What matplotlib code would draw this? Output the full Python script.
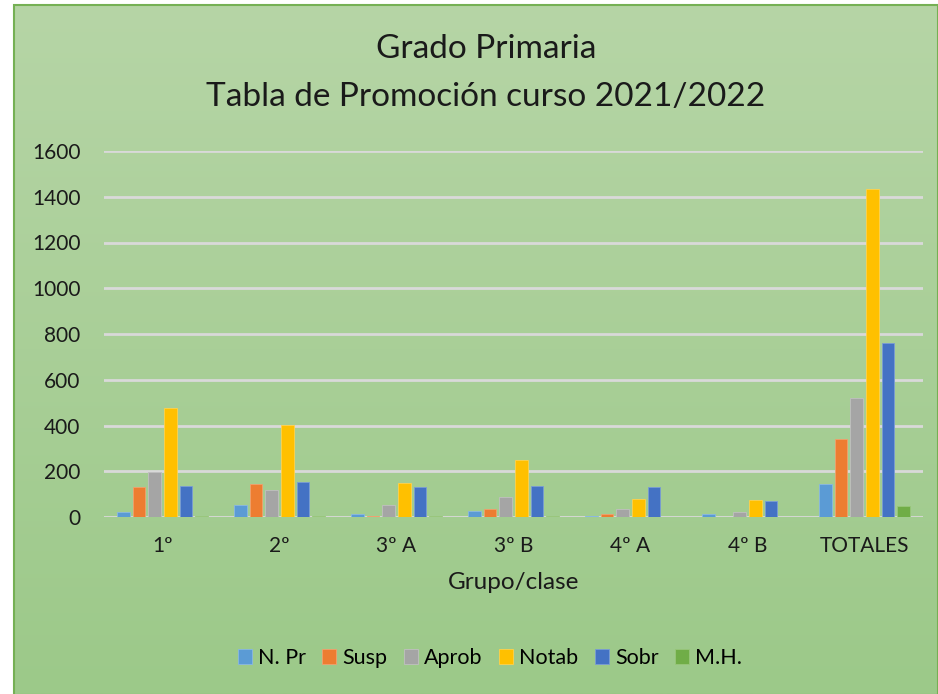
import numpy as np
import matplotlib.pyplot as plt
from matplotlib.patches import Rectangle

# data
groups = ['1º', '2º', '3º A', '3º B', '4º A', '4º B', 'TOTALES']
series_names = ['N. Pr', 'Susp', 'Aprob', 'Notab', 'Sobr', 'M.H.']
n_pr = [22, 54, 12, 25, 5, 13, 145]
susp = [129, 145, 6, 35, 12, 2, 339]
aprob = [197, 120, 51, 88, 35, 22, 521]
notab = [478, 402, 148, 247, 79, 76, 1436]
sobr = [134, 155, 129, 134, 129, 69, 759]
mh = [6, 6, 3, 6, 1, 0, 47]
colors = ['#5b9bd5', '#ed7d31', '#a5a5a5', '#ffc000', '#4472c4', '#70ad47']
edges = ['#8ab8e3', '#f2a06e', '#c0c0c0', '#ffd24d', '#7a9cd6', '#98c77a']

plt.rcParams['font.family'] = ['Lato', 'DejaVu Sans']

fig = plt.figure(figsize=(9.38, 6.94), dpi=100)

# green gradient background of the chart area
bg = fig.add_axes([0, 0, 1, 1])
bg.set_xlim(0, 938)
bg.set_ylim(694, 0)
bg.axis('off')
grad = np.linspace(0, 1, 256).reshape(-1, 1)
top = np.array([182, 213, 166]) / 255
bottom = np.array([156, 201, 137]) / 255
img = top + (bottom - top) * grad[:, :, None]
bg.imshow(img, extent=[13, 938, 694, 4], aspect='auto', zorder=0)
bg.add_patch(Rectangle((13.5, 4.5), 924, 690, fill=False,
                       edgecolor='#75b054', linewidth=1.5, zorder=1))

# title
fig.text(486 / 938, 1 - 49 / 694, 'Grado Primaria', ha='center', va='center',
         fontsize=24, color='#1a1a1a')
fig.text(486 / 938, 1 - 97 / 694, 'Tabla de Promoción curso 2021/2022',
         ha='center', va='center', fontsize=24, color='#1a1a1a')

ax = fig.add_axes([104 / 938, 1 - 517 / 694, 819 / 938, 366 / 694])
ax.patch.set_alpha(0)

data = [n_pr, susp, aprob, notab, sobr, mh]
x = np.arange(len(groups))
step = 0.133
width = 0.107
for i, vals in enumerate(data):
    ax.bar(x + (i - 2.5) * step, vals, width, color=colors[i],
           edgecolor=edges[i], linewidth=0.6, label=series_names[i], zorder=3)

ax.set_xlim(-0.5, len(groups) - 0.5)
ax.set_ylim(0, 1600)
ax.set_yticks(range(0, 1601, 200))
ax.yaxis.grid(True, color='#d9d9d9', linewidth=2, zorder=1)
ax.set_axisbelow(True)
for s in ax.spines.values():
    s.set_visible(False)
ax.tick_params(axis='both', length=0, labelsize=15, colors='#1a1a1a')
ax.tick_params(axis='y', pad=17)
ax.tick_params(axis='x', pad=14)
ax.set_xticks(x)
ax.set_xticklabels(groups)
ax.set_xlabel('Grupo/clase', fontsize=17.5, color='#1a1a1a', labelpad=11)

leg = fig.legend(loc='center', bbox_to_anchor=(490 / 938, 1 - 658 / 694),
                 ncol=6, frameon=False, fontsize=15.5, handlelength=0.65,
                 handleheight=0.65, handletextpad=0.3, columnspacing=0.75)

fig.savefig('out.png', dpi=100)
